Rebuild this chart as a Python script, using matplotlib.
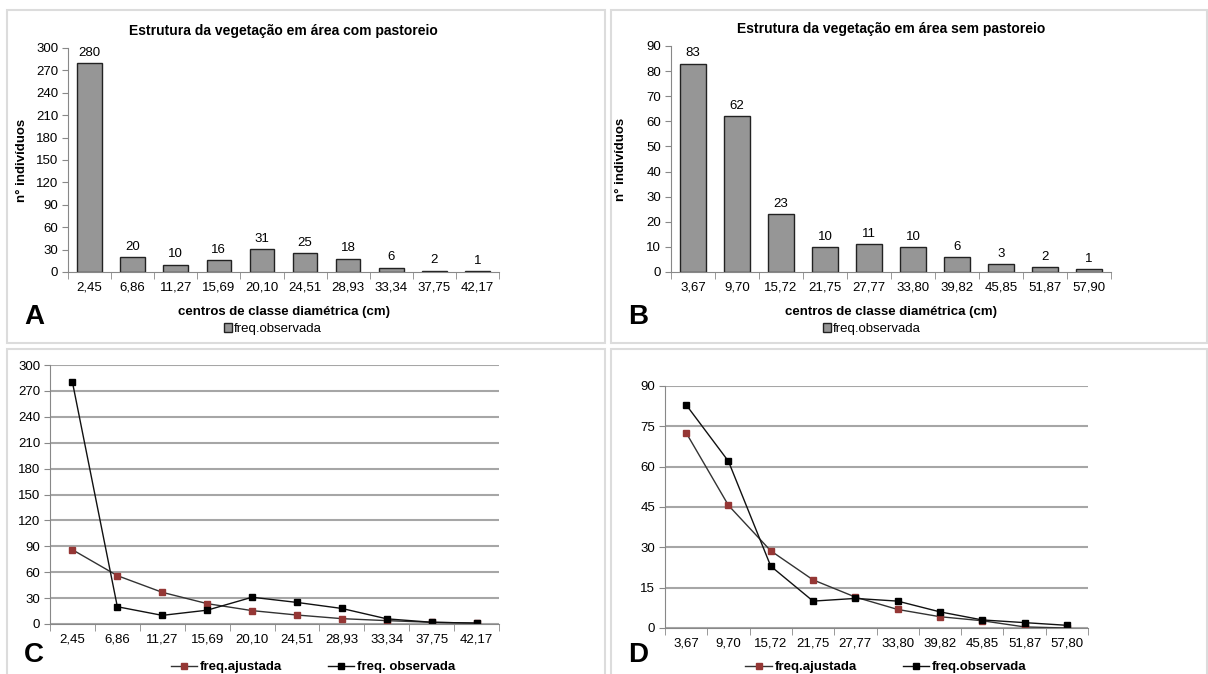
import matplotlib.pyplot as plt
from matplotlib.patches import Rectangle
import numpy as np

# dados
classes_com = ["2,45", "6,86", "11,27", "15,69", "20,10", "24,51", "28,93", "33,34", "37,75", "42,17"]
obs_com = [280, 20, 10, 16, 31, 25, 18, 6, 2, 1]
ajust_com = [86, 56, 36.7, 23.6, 15.5, 10.4, 6.2, 3.9, 2, 1]

classes_sem = ["3,67", "9,70", "15,72", "21,75", "27,77", "33,80", "39,82", "45,85", "51,87", "57,90"]
classes_sem_d = ["3,67", "9,70", "15,72", "21,75", "27,77", "33,80", "39,82", "45,85", "51,87", "57,80"]
obs_sem = [83, 62, 23, 10, 11, 10, 6, 3, 2, 1]
ajust_sem = [72.6, 45.6, 28.7, 17.9, 11.5, 6.9, 4.2, 2.7, 0.4, 0]

W, H = 1208, 674
FONT = ['Liberation Sans Narrow', 'Liberation Sans', 'DejaVu Sans']
plt.rcParams['font.family'] = FONT

fig = plt.figure(figsize=(W / 100, H / 100), dpi=100)


def eixo(x0, y0, x1, y1):
    return fig.add_axes([x0 / W, 1 - y1 / H, (x1 - x0) / W, (y1 - y0) / H])


def fx(px):
    return px / W


def fy(py):
    return 1 - py / H


def moldura(x0, y0, x1, y1):
    fig.patches.append(Rectangle((fx(x0), fy(y1)), (x1 - x0) / W, (y1 - y0) / H,
                                 transform=fig.transFigure, fill=False,
                                 edgecolor='#dcdcdc', lw=1.5))


def estilo(ax, ymax, passo, grid=False):
    n = 10
    ax.set_xlim(-0.5, n - 0.5)
    ax.set_ylim(0, ymax)
    ax.set_yticks(np.arange(0, ymax + 1, passo))
    ax.set_xticks(np.arange(n))
    ax.set_xticks(np.arange(-0.5, n, 1), minor=True)
    ax.tick_params(axis='x', which='major', length=0, pad=7, labelsize=9.5)
    ax.tick_params(axis='x', which='minor', length=5, color='#888888', direction='out')
    ax.tick_params(axis='y', length=4, color='#888888', labelsize=9.5, pad=3)
    for s in ['top', 'right']:
        ax.spines[s].set_visible(False)
    for s in ['left', 'bottom']:
        ax.spines[s].set_color('#888888')
    if grid:
        ax.yaxis.grid(True, color='#a6a6a6', lw=1.5)
        ax.set_axisbelow(True)


def barras(ax, classes, valores, ymax, passo, titulo, letra, lx, ly, ylab_x, leg_x):
    x = np.arange(len(classes))
    ax.bar(x, valores, width=0.57, color='#969696', edgecolor='#222222', lw=1.0,
           label='freq.observada')
    for xi, v in zip(x, valores):
        ax.annotate(str(v), (xi, v), xytext=(0, 3), textcoords='offset points',
                    ha='center', va='bottom', fontsize=9.5)
    estilo(ax, ymax, passo)
    ax.set_xticklabels(classes)
    ax.set_title(titulo, fontsize=10, fontweight='bold', pad=9)
    ax.set_ylabel('n° indivíduos', fontsize=9.5, fontweight='bold')
    ax.yaxis.set_label_coords(ylab_x, 0.5)
    ax.set_xlabel('centros de classe diamétrica (cm)', fontsize=9.5, fontweight='bold')
    ax.xaxis.set_label_coords(0.5, -0.15)
    ax.legend(loc='center', bbox_to_anchor=(fx(leg_x), fy(329)), bbox_transform=fig.transFigure,
              frameon=False, fontsize=9.5, handlelength=0.6, handleheight=0.6,
              handletextpad=0.2, borderpad=0)
    fig.text(fx(lx), fy(ly), letra, fontsize=20, fontweight='bold', va='center', ha='left',
             family='Liberation Sans')


def linhas(ax, classes, ajust, obs, ymax, passo, letra, lx, ly, lbl_obs, leg_x):
    x = np.arange(len(classes))
    ax.plot(x, ajust, color='#333333', lw=1.0, marker='s', ms=5,
            mfc='#953735', mec='#953735', label='freq.ajustada')
    ax.plot(x, obs, color='#111111', lw=1.0, marker='s', ms=5,
            mfc='black', mec='black', label=lbl_obs)
    estilo(ax, ymax, passo, grid=True)
    ax.set_xticklabels(classes)
    ax.set_ylim(0, ymax)
    ax.legend(loc='center', bbox_to_anchor=(fx(leg_x), fy(667)), bbox_transform=fig.transFigure,
              ncol=2, frameon=False, handlelength=2.0, columnspacing=3.5, handletextpad=0.2,
              borderpad=0, prop={'weight': 'bold', 'size': 9.5, 'family': FONT})
    fig.text(fx(lx), fy(ly), letra, fontsize=20, fontweight='bold', va='center', ha='left',
             family='Liberation Sans')


moldura(7, 10, 605, 343)
moldura(611, 10, 1207, 343)
moldura(7, 349, 605, 680)
moldura(611, 349, 1207, 680)

axA = eixo(68, 48, 499, 272)
barras(axA, classes_com, obs_com, 300, 30,
       'Estrutura da vegetação em área com pastoreio', 'A', 24, 317, -0.093, 273)

axB = eixo(671, 46, 1111, 272)
barras(axB, classes_sem, obs_sem, 90, 10,
       'Estrutura da vegetação em área sem pastoreio', 'B', 628, 317, -0.1, 872)

axC = eixo(50, 365, 499, 624)
linhas(axC, classes_com, ajust_com, obs_com, 300, 30, 'C', 24, 655, 'freq. observada', 313)

axD = eixo(665, 386, 1088, 628)
linhas(axD, classes_sem_d, ajust_sem, obs_sem, 90, 15, 'D', 628, 655, 'freq.observada', 886)

fig.savefig('out.png', dpi=100)
